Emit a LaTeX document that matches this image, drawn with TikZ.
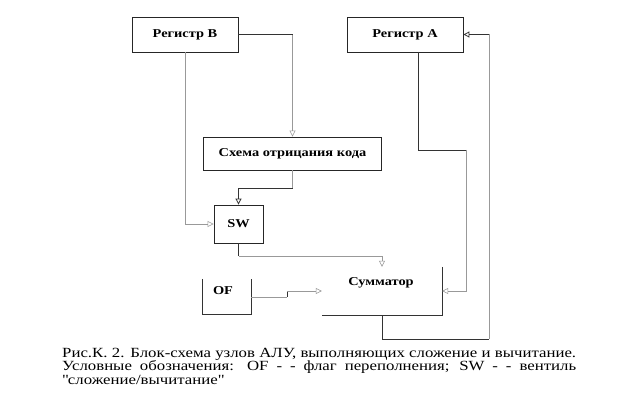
\documentclass[tikz,border=0pt]{standalone}
\usepackage{fontspec}
\setmainfont{Liberation Serif}[FakeStretch=1.2]
\usetikzlibrary{arrows.meta}
\begin{document}
\begin{tikzpicture}[x=1pt,y=-1pt,
  box/.style={draw=black!85,line width=0.8pt,fill=white,inner sep=0pt,font=\bfseries\fontsize{12}{14}\selectfont},
  plainbox/.style={inner sep=0pt},
  lbl/.style={inner sep=0pt,font=\bfseries\fontsize{12}{14}\selectfont},
  dk/.style={draw=black!80,line width=0.8pt},
  gr/.style={draw=black!40,line width=0.6pt},
  tip/.style={-{Triangle[open,length=6pt,width=6pt]}}]
\useasboundingbox (0,0) rectangle (624,417);
% boxes
\node[box,minimum width=106pt,minimum height=35pt] (rb) at (185,34.5) {Регистр В};
\node[box,minimum width=116pt,minimum height=35pt] (ra) at (405,34.5) {Регистр А};
\node[box,minimum width=178pt,minimum height=33pt] (sx) at (292.5,153.5) {Схема отрицания кода};
\node[box,minimum width=49pt,minimum height=38pt] (sw) at (238.5,224) {SW};
\node[plainbox,minimum width=120pt,minimum height=48pt] (sum) at (382,291) {};
\node[lbl] (sumt) at (381,283) {Сумматор};
\node[plainbox,minimum width=48pt,minimum height=35pt] (of) at (227,296.5) {};
\node[lbl] (oft) at (223,291) {OF};
% partial borders as in the reference
\draw[dk] (sum.north east) -- (sum.south east) -- (sum.south west);
\draw[dk] (of.north west) -- (of.south west) -- (of.south east) -- (of.north east);
% connectors
\draw[gr,tip] (rb.east) -| (sx.north);
\draw[dk] (rb.east) -- (rb.east -| sx.north);
\draw[gr,tip] (rb.south) |- (sw.west);
\coordinate (c3) at (292.5,188);
\draw[gr] (sx.south) -- (c3);
\draw[dk,tip] (c3) -| (sw.north);
\coordinate (c4) at (238.5,256);
\draw[dk] (sw.south) -- (c4);
\draw[gr,tip] (c4) -| (sum.north);
\coordinate (c5a) at (287,297);
\coordinate (c5b) at (287,291);
\draw[gr] (of.east |- c5a) -- (c5a);
\draw[dk] (c5a) -- (c5b);
\draw[gr,tip] (c5b) -- (sum.west);
\coordinate (c6a) at (418,52);
\coordinate (c6b) at (418,150);
\coordinate (c6c) at (466,150);
\draw[dk] (c6a) -- (c6b) -- (c6c);
\draw[gr,tip] (c6c) |- (sum.east);
\coordinate (c7a) at (382,339);
\coordinate (c7b) at (489,339);
\coordinate (c7c) at (489,34.5);
\draw[dk] (sum.south) -- (c7a) -- (c7b);
\draw[gr] (c7b) -- (c7c);
\draw[dk,tip] (c7c) -- (ra.east);
% caption
\node[anchor=north west,inner sep=0pt,text width=514pt,align=justify,font=\fontsize{14}{13.5}\selectfont] (cap) at (62,348)
{Рис.К. 2. Блок-схема узлов АЛУ, выполняющих сложение и вычитание.\linebreak
Условные обозначения: OF - - флаг переполнения; SW - - вентиль\linebreak
\textquotedbl сложение/вычитание\textquotedbl};
\end{tikzpicture}
\end{document}
